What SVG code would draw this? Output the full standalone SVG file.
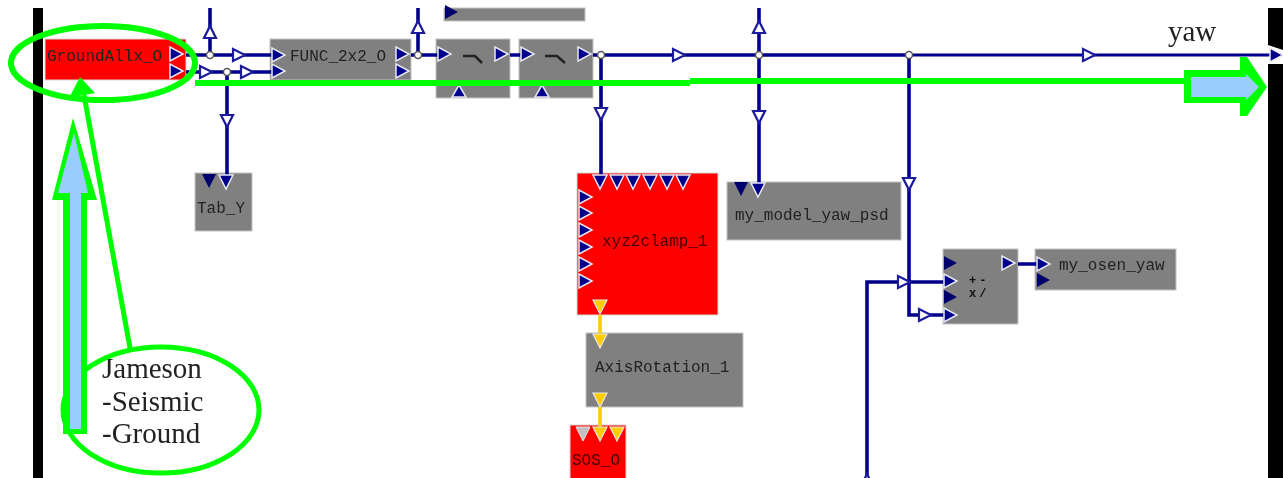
<svg xmlns="http://www.w3.org/2000/svg" width="1283" height="478" viewBox="0 0 1283 478">
<style>
.g{fill:#808080;stroke:#c4c4c4;stroke-width:1}
.red{fill:#ff0000;stroke:#d8d8d8;stroke-width:1}
.t{font-family:"Liberation Mono","DejaVu Sans Mono",monospace;font-size:16px;fill:#222}
.i{font-family:"Liberation Mono","DejaVu Sans Mono",monospace;font-size:12px;font-weight:bold;letter-spacing:3px;fill:#111}
.s{font-family:"Liberation Serif","Times New Roman",serif;font-size:29px;fill:#222}
.w{fill:none;stroke:#00008c;stroke-width:3.6}
.y{fill:none;stroke:#ffcc00;stroke-width:3.6}
.p{fill:#00008c;stroke:#e8e8f4;stroke-width:1.5}
.k{fill:#00006c;stroke:none}
.o{fill:#fff;stroke:#1a1a9c;stroke-width:2.2}
.yp{fill:#ffcc00;stroke:#e8e8e8;stroke-width:1.2}
.j{fill:#fff;stroke:#555;stroke-width:1.5}
.gl{fill:none;stroke:#00ff00;stroke-width:6}
.gf{fill:#00ff00}
.bf{fill:#99ccff}
</style>
<defs>
<polygon id="r" points="0,-7 0,7 13,0"/>
<polygon id="d" points="-7,0 7,0 0,14"/>
<polygon id="u" points="-7,0 7,0 0,-12"/>
<polygon id="or" points="0,-6 0,6 12,0"/>
<polygon id="od" points="-6,0 6,0 0,12"/>
<polygon id="ou" points="-6,0 6,0 0,-12"/>
<filter id="b" filterUnits="userSpaceOnUse" x="0" y="0" width="1283" height="478"><feGaussianBlur stdDeviation="0.65"/></filter>
</defs>
<rect width="1283" height="478" fill="#fff"/>
<g filter="url(#b)">
<g id="borders">
<rect x="33" y="8" width="10" height="470" fill="#000"/>
<polygon points="1268,8 1283,8 1283,50 1268,45" fill="#000"/>
<rect x="1268" y="64" width="15" height="414" fill="#000"/>
</g>
<g id="node-top"><rect class="g" x="444" y="8" width="141" height="13"/><use href="#r" class="k" x="445" y="12"/></g>
<g id="node-groundallx"><rect class="red" x="45" y="39" width="141" height="41"/><text class="t" x="47" y="61">GroundAllx_O</text><use href="#r" class="p" x="170" y="54"/><use href="#r" class="p" x="170" y="71"/></g>
<g id="node-func"><rect class="g" x="270" y="39" width="141" height="41"/><text class="t" x="290" y="61">FUNC_2x2_O</text><use href="#r" class="p" x="396" y="54"/><use href="#r" class="p" x="396" y="71"/></g>
<g id="node-filter1"><rect class="g" x="436" y="39" width="74" height="59"/><path d="M463 56H475L482 63" fill="none" stroke="#222" stroke-width="2.5"/><use href="#r" class="p" x="495" y="54"/><use href="#u" class="p" x="459" y="97"/></g>
<g id="node-filter2"><rect class="g" x="519" y="39" width="74" height="59"/><path d="M545 56H557L565 63" fill="none" stroke="#222" stroke-width="2.5"/><use href="#r" class="p" x="578" y="54"/><use href="#u" class="p" x="542" y="97"/></g>
<g id="node-tab"><rect class="g" x="195" y="173" width="57" height="58"/><use href="#d" class="k" x="209" y="174"/><text class="t" x="197" y="213">Tab_Y</text></g>
<g id="node-xyz"><rect class="red" x="577" y="173" width="141" height="142"/><text class="t" x="602" y="246" style="fill:#400">xyz2clamp_1</text>
<use href="#d" class="p" x="617" y="175"/><use href="#d" class="p" x="633" y="175"/><use href="#d" class="p" x="650" y="175"/><use href="#d" class="p" x="667" y="175"/><use href="#d" class="p" x="683" y="175"/>
<use href="#r" class="p" x="579" y="197"/><use href="#r" class="p" x="579" y="213"/><use href="#r" class="p" x="579" y="230"/><use href="#r" class="p" x="579" y="247"/><use href="#r" class="p" x="579" y="264"/><use href="#r" class="p" x="579" y="281"/>
<use href="#d" class="yp" x="600" y="300"/></g>
<g id="node-psd"><rect class="g" x="727" y="182" width="174" height="58"/><use href="#d" class="k" x="741" y="182"/><text class="t" x="735" y="220">my_model_yaw_psd</text></g>
<g id="node-axis"><rect class="g" x="586" y="333" width="157" height="74"/><text class="t" x="595" y="372">AxisRotation_1</text><use href="#d" class="yp" x="600" y="393"/></g>
<g id="node-sos"><rect class="red" x="570" y="425" width="56" height="54"/><use href="#d" x="583" y="427" style="fill:#c0c0c0;stroke:#e8e8e8"/><use href="#d" class="yp" x="617" y="427"/><text class="t" x="572" y="465" style="fill:#400">SOS_O</text></g>
<g id="node-sum"><rect class="g" x="943" y="249" width="75" height="75"/><use href="#r" class="k" x="944" y="263"/><use href="#r" class="k" x="944" y="297"/><text class="i" x="969" y="284">+-</text><text class="i" x="969" y="297">x/</text><use href="#r" class="p" x="1002" y="263"/></g>
<g id="node-osen"><rect class="g" x="1035" y="249" width="141" height="41"/><use href="#r" class="k" x="1037" y="280"/><text class="t" x="1059" y="270">my_osen_yaw</text></g>
<g id="connectors">
<path class="w" d="M186 55H272M186 72H272M210 8V55M227 72V175M418 8V55M411 55H438M510 55H521M593 55H910M601 55V178M759 8V186M909 55V315H945M867 478V282H945M1018 264H1037"/>
<path class="w" style="stroke-width:3" d="M910 55H1272"/>
<path class="y" d="M600 315V335M600 407V428"/>
<use href="#or" class="o" x="233" y="55"/><use href="#or" class="o" x="200" y="72"/><use href="#or" class="o" x="241" y="72"/>
<use href="#or" class="o" x="673" y="55"/><use href="#or" class="o" x="1083" y="55"/><use href="#or" class="o" x="898" y="282"/><use href="#or" class="o" x="919" y="315"/>
<use href="#ou" class="o" x="210" y="38"/><use href="#ou" class="o" x="418" y="33"/><use href="#ou" class="o" x="759" y="33"/>
<use href="#od" class="o" x="227" y="115"/><use href="#od" class="o" x="601" y="108"/><use href="#od" class="o" x="759" y="111"/><use href="#od" class="o" x="909" y="178"/>
<use href="#ou" class="o" x="867" y="486"/>
<use href="#r" class="p" x="272" y="55"/><use href="#r" class="p" x="272" y="71"/><use href="#r" class="p" x="438" y="54"/><use href="#r" class="p" x="521" y="54"/>
<use href="#r" class="p" x="1270" y="55"/><use href="#d" class="p" x="226" y="175"/><use href="#d" class="p" x="600" y="175"/><use href="#d" class="p" x="758" y="183"/>
<use href="#r" class="p" x="944" y="281"/><use href="#r" class="p" x="944" y="315"/><use href="#r" class="p" x="1037" y="264"/>
<use href="#d" class="yp" x="600" y="334"/><use href="#d" class="yp" x="600" y="427"/>
<circle class="j" cx="210" cy="55" r="3.5"/><circle class="j" cx="227" cy="72" r="3.5"/><circle class="j" cx="418" cy="55" r="3.5"/><circle class="j" cx="601" cy="55" r="3.5"/><circle class="j" cx="759" cy="55" r="3.5"/><circle class="j" cx="909" cy="55" r="3.5"/>
</g>
<g id="labels">
<text class="s" x="1168" y="41">yaw</text>
<text class="s" x="102" y="378">Jameson</text>
<text class="s" x="102" y="411">-Seismic</text>
<text class="s" x="102" y="443">-Ground</text>
</g>
<g id="annotations">
<ellipse class="gl" cx="103" cy="63" rx="92" ry="37"/>
<ellipse class="gl" style="stroke-width:5" cx="161" cy="410" rx="98" ry="63"/>
<path class="gl" style="stroke-width:5" d="M84 95L130 348"/>
<polygon class="gf" points="80,77 69,98 95,93"/>
<path class="gl" d="M195 83H690"/>
<path class="gl" d="M690 81H1190"/>
<polygon class="gf" points="73,118 97,200 87,200 87,434 63,434 63,200 52,200"/>
<polygon class="bf" points="74,133 88,193 81,193 81,429 70,429 70,193 58,193"/>
<polygon class="gf" points="1184,70 1240,70 1240,57 1247,57 1267,87 1247,116 1240,116 1240,103 1184,103"/>
<polygon class="bf" points="1191,77 1246,77 1246,74 1259,87 1246,100 1246,97 1191,97"/>
</g>
</g>
</svg>
